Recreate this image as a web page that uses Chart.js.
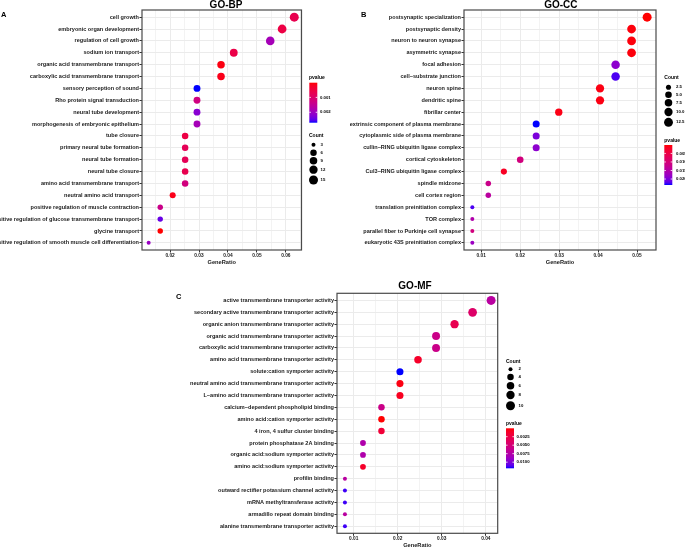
<!DOCTYPE html>
<html><head><meta charset="utf-8">
<script src="https://cdn.jsdelivr.net/npm/chart.js@4/dist/chart.umd.min.js"></script>
<style>
html,body{margin:0;padding:0;background:#fff;overflow:hidden;width:685px;height:547px}
canvas{position:absolute;left:0;top:0}
</style></head><body>
<canvas id="cA" width="685" height="560"></canvas>
<canvas id="cB" width="685" height="560"></canvas>
<canvas id="cC" width="685" height="560"></canvas>
<script>
// ---------------- DATA ----------------
const bpTerms = ["cell growth","embryonic organ development","regulation of cell growth","sodium ion transport","organic acid transmembrane transport","carboxylic acid transmembrane transport","sensory perception of sound","Rho protein signal transduction","neural tube development","morphogenesis of embryonic epithelium","tube closure","primary neural tube formation","neural tube formation","neural tube closure","amino acid transmembrane transport","neutral amino acid transport","positive regulation of muscle contraction","positive regulation of glucose transmembrane transport","glycine transport","positive regulation of smooth muscle cell differentiation"];
const bpRatio = [0.0629,0.0587,0.0546,0.0420,0.0376,0.0376,0.0293,0.0293,0.0293,0.0293,0.0252,0.0252,0.0252,0.0252,0.0252,0.0209,0.0166,0.0166,0.0166,0.0126];
const bpCount = [15,14,13,10,9,9,7,7,7,7,6,6,6,6,6,5,4,4,4,3];
const bpP = [0.00068,0.00055,0.0019,0.0006,0.00009,0.00014,0.0027,0.00125,0.0022,0.0019,0.00055,0.00076,0.00076,0.00068,0.00122,0.00014,0.00135,0.00243,0.00001,0.00203];
const bpXTicks = [0.02,0.03,0.04,0.05,0.06];
const bpPBreaks = ["0.001","0.002"];
const bpCountBreaks = [3,6,9,12,15];

const ccTerms = ["postsynaptic specialization","postsynaptic density","neuron to neuron synapse","asymmetric synapse","focal adhesion","cell\u2212substrate junction","neuron spine","dendritic spine","fibrillar center","extrinsic component of plasma membrane","cytoplasmic side of plasma membrane","cullin\u2212RING ubiquitin ligase complex","cortical cytoskeleton","Cul3\u2212RING ubiquitin ligase complex","spindle midzone","cell cortex region","translation preinitiation complex","TOR complex","parallel fiber to Purkinje cell synapse","eukaryotic 43S preinitiation complex"];
const ccRatio = [0.0526,0.0486,0.0486,0.0486,0.0445,0.0445,0.0405,0.0405,0.0299,0.0241,0.0241,0.0241,0.0200,0.0158,0.0118,0.0118,0.0077,0.0077,0.0077,0.0077];
const ccCount = [13,12,12,12,11,11,10,10,7,6,6,6,5,4,3,3,2,2,2,2];
const ccP = [0.00005,0.0005,0.0005,0.0005,0.0188,0.0223,0.0008,0.0008,0.001,0.0235,0.02,0.0188,0.0106,0.0019,0.0118,0.0141,0.0223,0.0153,0.0106,0.0176];
const ccXTicks = [0.01,0.02,0.03,0.04,0.05];
const ccPBreaks = ["0.005","0.010","0.015","0.020"];
const ccCountBreaks = [2.5,5.0,7.5,10.0,12.5];

const mfTerms = ["active transmembrane transporter activity","secondary active transmembrane transporter activity","organic anion transmembrane transporter activity","organic acid transmembrane transporter activity","carboxylic acid transmembrane transporter activity","amino acid transmembrane transporter activity","solute:cation symporter activity","neutral amino acid transmembrane transporter activity","L\u2212amino acid transmembrane transporter activity","calcium\u2212dependent phospholipid binding","amino acid:cation symporter activity","4 iron, 4 sulfur cluster binding","protein phosphatase 2A binding","organic acid:sodium symporter activity","amino acid:sodium symporter activity","profilin binding","outward rectifier potassium channel activity","mRNA methyltransferase activity","armadillo repeat domain binding","alanine transmembrane transporter activity"];
const mfRatio = [0.0412,0.0370,0.0329,0.0287,0.0287,0.0246,0.0205,0.0205,0.0205,0.0163,0.0163,0.0163,0.0121,0.0121,0.0121,0.0080,0.0080,0.0080,0.0080,0.0080];
const mfCount = [10,9,8,7,7,6,5,5,5,4,4,4,3,3,3,2,2,2,2,2];
const mfP = [0.0071,0.0042,0.003,0.0059,0.0059,0.0012,0.0118,0.0004,0.0008,0.0059,0.00003,0.0018,0.0077,0.0077,0.0012,0.0071,0.0114,0.0114,0.0071,0.0114];
const mfXTicks = [0.01,0.02,0.03,0.04];
const mfPBreaks = ["0.0025","0.0050","0.0075","0.0100"];
const mfCountBreaks = [2,4,6,8,10];

// ---------------- COLOUR (Lab gradient red -> blue, like ggplot) ----------------
function lin(c){c/=255;return c<=0.04045?c/12.92:Math.pow((c+0.055)/1.055,2.4);}
function unlin(c){c=c<=0.0031308?12.92*c:1.055*Math.pow(c,1/2.4)-0.055;return Math.round(Math.max(0,Math.min(1,c))*255);}
function toLab(r,g,b){const R=lin(r),G=lin(g),B=lin(b);
  const X=(0.4124*R+0.3576*G+0.1805*B)/0.95047,Y=(0.2126*R+0.7152*G+0.0722*B),Z=(0.0193*R+0.1192*G+0.9505*B)/1.08883;
  const f=t=>t>0.008856?Math.cbrt(t):(7.787*t+16/116);
  return [116*f(Y)-16,500*(f(X)-f(Y)),200*(f(Y)-f(Z))];}
function fromLab(L,a,b){const fy=(L+16)/116,fx=fy+a/500,fz=fy-b/200;
  const inv=t=>t*t*t>0.008856?t*t*t:(t-16/116)/7.787;
  const X=inv(fx)*0.95047,Y=inv(fy),Z=inv(fz)*1.08883;
  const R=3.2406*X-1.5372*Y-0.4986*Z,G=-0.9689*X+1.8758*Y+0.0415*Z,B=0.0557*X-0.2040*Y+1.0570*Z;
  return 'rgb('+unlin(R)+','+unlin(G)+','+unlin(B)+')';}
const LAB_LO=toLab(255,0,0), LAB_HI=toLab(0,0,255);
function grad(t){t=Math.max(0,Math.min(1,t));return fromLab(LAB_LO[0]+(LAB_HI[0]-LAB_LO[0])*t,LAB_LO[1]+(LAB_HI[1]-LAB_LO[1])*t,LAB_LO[2]+(LAB_HI[2]-LAB_LO[2])*t);}

const FONT='"Liberation Sans", Arial, Helvetica, sans-serif';
const TXT='#1a1a1a';

function panel(id,P){
  const n=P.terms.length;
  const pMin=Math.min(...P.p),pMax=Math.max(...P.p);
  const cMin=Math.min(...P.count),cMax=Math.max(...P.count);
  const colorOf=p=>grad((p-pMin)/(pMax-pMin));
  const radiusOf=c=>2+2.5*Math.sqrt(Math.max(0,(c-cMin))/(cMax-cMin));
  const A=P.area;
  const minor=[];
  for(let i=0;i<P.xTicks.length+1;i++){
    const step=P.xTicks[1]-P.xTicks[0];
    const v=+(P.xTicks[0]-step/2+i*step).toFixed(4);
    if(v>P.xMin&&v<P.xMax)minor.push(v);
  }
  const allTicks=P.xTicks.map(v=>({value:v,mn:false})).concat(minor.map(v=>({value:v,mn:true}))).sort((a,b)=>a.value-b.value);

  const deco={
    id:'deco'+id,
    afterDraw(chart){
      const ctx=chart.ctx,ca=chart.chartArea;
      ctx.save();
      ctx.strokeStyle='#4a4a4a';ctx.lineWidth=1.2;
      ctx.strokeRect(ca.left,ca.top,ca.right-ca.left,ca.bottom-ca.top);
      ctx.fillStyle='#000';
      ctx.font='bold 10px '+FONT;ctx.textAlign='center';ctx.textBaseline='alphabetic';
      ctx.fillText(P.title,P.titlePos[0],P.titlePos[1]);
      ctx.font='bold 7.5px '+FONT;ctx.textAlign='left';
      ctx.fillText(P.letter,P.letterPos[0],P.letterPos[1]);
      // colour bar legend
      const C=P.cbar;
      ctx.font='bold 5px '+FONT;ctx.textBaseline='middle';ctx.textAlign='left';ctx.fillStyle='#000';
      ctx.fillText('pvalue',C.titleX,C.titleY);
      const g=ctx.createLinearGradient(0,C.y,0,C.y+C.h);
      for(let i=0;i<=20;i++)g.addColorStop(i/20,grad(i/20));
      ctx.fillStyle=g;ctx.fillRect(C.x,C.y,C.w,C.h);
      ctx.font='bold 4.3px '+FONT;
      P.pBreaks.forEach(s=>{
        const v=parseFloat(s);const y=C.y+(v-pMin)/(pMax-pMin)*C.h;
        ctx.strokeStyle='#fff';ctx.lineWidth=0.8;
        ctx.beginPath();ctx.moveTo(C.x,y);ctx.lineTo(C.x+C.w*0.2,y);ctx.moveTo(C.x+C.w*0.8,y);ctx.lineTo(C.x+C.w,y);ctx.stroke();
        ctx.fillStyle='#000';ctx.fillText(s,C.labelX,y);
      });
      // size legend
      const S=P.sleg;
      ctx.font='bold 5px '+FONT;ctx.fillStyle='#000';
      ctx.fillText('Count',S.titleX,S.titleY);
      ctx.font='bold 4.3px '+FONT;
      P.countBreaks.forEach((b,i)=>{
        ctx.fillStyle='#000';ctx.beginPath();ctx.arc(S.dotX,S.ys[i],radiusOf(b),0,Math.PI*2);ctx.fill();
        ctx.fillText(S.labels[i],S.labelX,S.ys[i]);
      });
      ctx.restore();
    }
  };

  new Chart(document.getElementById(id),{
    type:'scatter',
    data:{datasets:[{
      data:P.ratio.map((r,i)=>({x:r,y:i})),
      pointRadius:c=>radiusOf(P.count[c.dataIndex]),
      pointBackgroundColor:c=>colorOf(P.p[c.dataIndex]),
      pointBorderWidth:0,pointBorderColor:'rgba(0,0,0,0)'
    }]},
    options:{
      responsive:false,animation:false,devicePixelRatio:1,events:[],
      layout:{padding:{left:0,top:A.top,right:685-A.right,bottom:560-A.bottom-16}},
      plugins:{legend:{display:false},tooltip:{enabled:false},title:{display:false}},
      scales:{
        x:{type:'linear',min:P.xMin,max:P.xMax,
          afterFit:s=>{s.height=16;},
          afterBuildTicks:s=>{s.ticks=allTicks.map(t=>({value:t.value,mn:t.mn}));},
          ticks:{callback:(v,i,t)=>t[i].mn?'':String(v),font:{family:FONT,size:4.8,weight:'bold'},color:TXT,padding:0,maxRotation:0,minRotation:0,autoSkip:false},
          grid:{color:'#ebebeb',lineWidth:c=>(c.tick&&c.tick.mn)?0.6:1,tickLength:2.5,tickWidth:1,
            tickColor:c=>(c.tick&&c.tick.mn)?'rgba(0,0,0,0)':'#333'},
          border:{display:false},
          title:{display:true,text:'GeneRatio',font:{family:FONT,size:5.7,weight:'bold'},color:TXT,padding:0}
        },
        y:{type:'linear',reverse:true,min:-0.6,max:n-0.4,
          afterFit:s=>{s.width=A.left;},
          afterBuildTicks:s=>{s.ticks=P.terms.map((t,i)=>({value:i}));},
          ticks:{callback:v=>P.terms[v],font:{family:FONT,size:5.55,weight:'bold'},color:TXT,padding:0.5,autoSkip:false},
          grid:{color:'#ebebeb',lineWidth:1,tickLength:2.5,tickColor:'#333',tickWidth:1},
          border:{display:false}
        }
      }
    },
    plugins:[deco]
  });
}

panel('cA',{terms:bpTerms,ratio:bpRatio,count:bpCount,p:bpP,xTicks:bpXTicks,pBreaks:bpPBreaks,countBreaks:bpCountBreaks,
  xMin:0.0103,xMax:0.0654,area:{left:142,right:301.5,top:10,bottom:250},
  title:'GO-BP',titlePos:[226,7.5],letter:'A',letterPos:[1,16.7],
  cbar:{titleX:309,titleY:77.7,x:309.3,y:82.7,w:8,h:40,labelX:320},
  sleg:{titleX:309,titleY:136,dotX:313.5,ys:[144.7,152.7,160.7,169.7,180],labelX:320.5,labels:['3','6','9','12','15']}});

panel('cB',{terms:ccTerms,ratio:ccRatio,count:ccCount,p:ccP,xTicks:ccXTicks,pBreaks:ccPBreaks,countBreaks:ccCountBreaks,
  xMin:0.00556,xMax:0.05488,area:{left:464,right:656,top:10,bottom:250},
  title:'GO-CC',titlePos:[560.8,7.5],letter:'B',letterPos:[361,17.3],
  cbar:{titleX:664.3,titleY:140.7,x:664.3,y:145,w:8,h:40,labelX:676},
  sleg:{titleX:664.3,titleY:78,dotX:668.5,ys:[87.3,94.7,102.7,112,122.3],labelX:676,labels:['2.5','5.0','7.5','10.0','12.5']}});

panel('cC',{terms:mfTerms,ratio:mfRatio,count:mfCount,p:mfP,xTicks:mfXTicks,pBreaks:mfPBreaks,countBreaks:mfCountBreaks,
  xMin:0.0062,xMax:0.0427,area:{left:337,right:497.7,top:293.3,bottom:533.3},
  title:'GO-MF',titlePos:[415,289],letter:'C',letterPos:[176,298.7],
  cbar:{titleX:506,titleY:423.7,x:506,y:428.3,w:8,h:40,labelX:516.5},
  sleg:{titleX:506,titleY:361.5,dotX:510.5,ys:[369.3,377,385.7,395,405.7],labelX:518.5,labels:['2','4','6','8','10']}});
</script>
</body></html>
